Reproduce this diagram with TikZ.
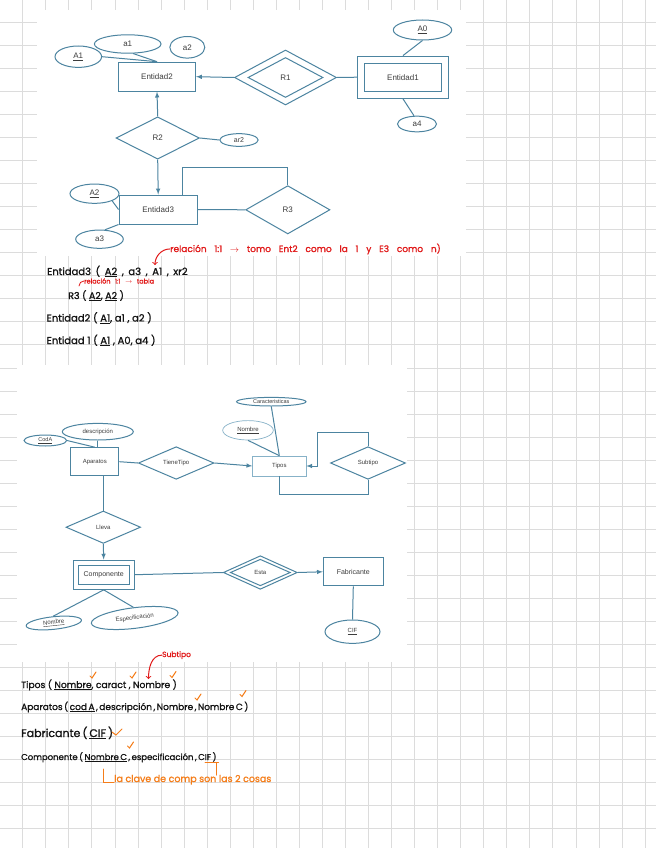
\documentclass[tikz,border=0pt]{standalone}
\usepackage{fontspec}
\usetikzlibrary{shapes.geometric}
\newfontfamily\erfamily{Liberation Sans}
\newfontfamily\handfamily[FakeBold=1.2]{Poppins}
\definecolor{erblue}{RGB}{76,132,160}
\definecolor{erlight}{RGB}{135,178,200}
\definecolor{gridgray}{RGB}{220,220,220}
\definecolor{ertext}{RGB}{60,60,60}
\definecolor{ink}{RGB}{20,20,20}
\definecolor{penred}{RGB}{225,25,25}
\definecolor{penorange}{RGB}{245,125,25}
\tikzset{
  ent/.style={rectangle, draw=erblue, line width=1pt, inner sep=0pt, text=ertext},
  attr/.style={ellipse, draw=erblue, line width=1pt, inner sep=0pt, text=ertext},
  rel/.style={diamond, draw=erblue, line width=1pt, inner sep=0pt, text=ertext},
  lightline/.style={draw=erlight, line width=0.7pt},
  conn/.style={draw=erblue, line width=1pt},
  arr/.style={conn, -latex},
  gridline/.style={draw=gridgray, line width=0.8pt},
  hand/.style={anchor=base west, inner sep=0pt, text=ink, font=\handfamily\fontsize{10}{11}\selectfont},
  redpen/.style={draw=penred, line width=1pt, line cap=round},
  orangepen/.style={draw=penorange, line width=1pt, line cap=round}
}
% spaziatura delle parole scritte a mano
\newcommand{\wgap}[1]{\spaceskip=#1\relax}
\begin{document}
\begin{tikzpicture}[x=1pt, y=-1pt]
    \useasboundingbox (0,0) rectangle (656,848);
    \fill[white] (0,0) rectangle (656,848);

    % --- Quaderno a quadretti ---
    \foreach \k in {0,...,27}
        \draw[gridline] ({22.7+23.05*\k},0) -- ({22.7+23.05*\k},848);
    \foreach \k in {0,...,35}
        \draw[gridline] (0,{22.3+23.04*\k}) -- (656,{22.3+23.04*\k});

    % sfondi bianchi delle due immagini incollate
    \fill[white] (37,10) rectangle (466,256);
    \fill[white] (17,365) rectangle (407,662);

    % --- Primo diagramma ---
    \begin{scope}[nodes={font=\erfamily\fontsize{8}{9}\selectfont}]
    \node[ent, minimum width=77, minimum height=29] (ent2) at (157,76.7) {Entidad2};
    \node[attr, minimum width=46.6, minimum height=21.4] (A1) at (78.3,56.7) {\underline{A1}};
    \node[attr, minimum width=66.6, minimum height=18.4] (a1) at (127.7,44) {a1};
    \node[attr, minimum width=35, minimum height=21.6] (a2) at (187.3,47.3) {a2};

    % relazione doppia R1
    \node[rel, minimum width=102, minimum height=55] (R1) at (285.5,77.5) {};
    \node[rel, minimum width=75, minimum height=40] (R1in) at (R1) {R1};

    % entita debole Entidad1
    \node[ent, minimum width=90.6, minimum height=42.3] (ent1) at (403,77.2) {};
    \node[ent, minimum width=76.7, minimum height=28.3] (ent1in) at (ent1) {Entidad1};
    \node[attr, minimum width=58.4, minimum height=20] (A0) at (422.5,30) {\underline{A0}};
    \node[attr, minimum width=39, minimum height=15.7] (a4) at (417,124) {a4};

    \node[rel, minimum width=83.3, minimum height=42.3] (R2) at (157.7,138) {R2};
    \node[attr, minimum width=38.3, minimum height=12.7, font=\erfamily\fontsize{7}{8}\selectfont] (ar2) at (239,140) {ar2};

    \node[ent, minimum width=78.3, minimum height=29] (ent3) at (158.2,209.5) {Entidad3};
    \node[rel, minimum width=84.3, minimum height=48.3] (R3) at (287.8,209.8) {R3};
    \node[attr, minimum width=49, minimum height=19.3] (A2) at (94.5,193.7) {\underline{A2}};
    \node[attr, minimum width=47.6, minimum height=18.3] (a3) at (99.5,239.2) {a3};

    % collegamenti
    \draw[conn] (A1.east) -- (ent2.north);
    \draw[conn] (a1.-60) -- (ent2.north);
    \draw[arr] (R1.west) -- (ent2.east);
    \draw[conn] (R1.east) -- (ent1.west);
    \draw[conn] (A0.south) -- (ent1.north);
    \draw[conn] (ent1.south) -- (a4.110);
    \draw[arr] (R2.north) -- (ent2.south);
    \draw[conn] (R2.east) -- (ar2.west);
    \draw[arr] (R2.south) -- (ent3.north);
    \draw[conn] (ent3.east) -- (R3.west);
    \coordinate (lp3) at (182.7,167.3);
    \draw[conn] (lp3 |- ent3.north) -- (lp3) -| (R3.north);
    \draw[conn] (A2.south east) -- (ent3.west);
    \draw[conn] (a3.60) -- (ent3.south west);
    \end{scope}

    % --- Secondo diagramma ---
    \begin{scope}[nodes={font=\erfamily\fontsize{6}{7}\selectfont}]
    \node[ent, minimum width=48.3, minimum height=28] (apar) at (94.8,461.7) {Aparatos};
    \node[attr, minimum width=42.6, minimum height=11, font=\erfamily\fontsize{5.5}{6}\selectfont] (codA) at (45.3,440.5) {\underline{CodA}};
    \node[attr, minimum width=71, minimum height=16.6] (desc) at (97.8,431.7) {descripción};
    \node[rel, minimum width=75.6, minimum height=32.6] (tiene) at (176.2,463) {TieneTipo};

    \node[ent, lightline, minimum width=53.3, minimum height=20] (tipos) at (279.3,466) {Tipos};
    \node[attr, minimum width=69.4, minimum height=8.6, font=\erfamily\fontsize{5.5}{6}\selectfont] (carac) at (271.3,401.7) {Caracteristicas};
    \node[attr, lightline, minimum width=50.6, minimum height=19.4] (nomT) at (248,430.3) {\underline{Nombre}};
    \node[rel, minimum width=75, minimum height=32.6] (subt) at (368,463) {Subtipo};

    \node[rel, minimum width=74.6, minimum height=32.4] (lleva) at (103.3,527.2) {Lleva};
    \node[ent, minimum width=60.7, minimum height=29.3] (comp) at (103.7,574.7) {};
    \node[ent, minimum width=51, minimum height=19, font=\erfamily\fontsize{7}{8}\selectfont] (compin) at (comp) {Componente};
    \node[rel, minimum width=74, minimum height=33.6] (esta) at (260.3,572.5) {};
    \node[rel, minimum width=60, minimum height=26.6] (estain) at (esta) {Esta};
    \node[ent, minimum width=60, minimum height=28.3, font=\erfamily\fontsize{7}{8}\selectfont] (fab) at (353.3,571.8) {Fabricante};
    \node[attr, minimum width=55, minimum height=23.4] (cif) at (352.5,631.7) {\underline{CIF}};
    \node[attr, rotate=6, minimum width=55.6, minimum height=12.6] (nomC) at (53.8,623) {\underline{Nombre}};
    \node[attr, rotate=7, minimum width=87.4, minimum height=20.6] (espec) at (134.7,618) {Especificación};

    % collegamenti
    \draw[conn] (desc.south) -- (desc.south |- apar.north);
    \draw[conn] (codA.east) -- (apar.north);
    \draw[conn] (apar.east) -- (tiene.west);
    \draw[arr] (tiene.east) -- (tipos.west);
    \draw[conn] (carac.south) -- (tipos.north);
    \draw[conn] (nomT.south) -- (tipos.north);
    \coordinate (st1) at (317.3,432.7);
    \draw[arr] (subt.north) |- (st1) |- (tipos.east);
    \coordinate (st2) at (279.3,494);
    \draw[conn] (subt.south) |- (st2) -- (tipos.south);
    \draw[conn] (lleva.north |- apar.south) -- (lleva.north);
    \draw[arr] (lleva.south) -- (comp.north);
    \draw[conn] (comp.east) -- (esta.west);
    \draw[arr] (esta.east) -- (fab.west);
    \draw[conn] (fab.south) -- (cif.north);
    \draw[conn] (comp.south) -- (nomC.north);
    \draw[conn] (comp.south) -- (espec.north);
    \end{scope}

    % --- Appunti a mano: primo schema ---
    \node[hand] (f3) at (47,275) {\wgap{4.6pt}Entidad3 ( \underline{A2} , a3 , A1 , xr2};
    \node[hand, font=\handfamily\fontsize{9.5}{11}\selectfont] (fr3) at (68,299) {R3 ( \underline{A2}, \underline{A2} )};
    \node[hand] (f2) at (46.5,321.5) {Entidad2 ( \underline{A1}, a1 , a2 )};
    \node[hand] (f1) at (46.5,344) {Entidad 1 ( \underline{A1} , A0, a4 )};

    \node[hand, text=penred, font=\handfamily\fontsize{9}{10}\selectfont] (nota1) at (170,252) {\wgap{7.8pt}relación 1:1 $\to$ tomo Ent2 como la 1 y E3 como n)};
    \coordinate (k1) at (155,265);
    \draw[redpen, ->] (nota1.west) to[out=180, in=90] (k1);

    \node[hand, text=penred, font=\handfamily\fontsize{6.5}{7}\selectfont] (nota2) at (84,283.5) {\wgap{4.5pt}relación 1:1 $\to$ tabla};
    \coordinate (k2) at (79,286);
    \draw[redpen, line width=0.8pt] (k2) to[out=90, in=180] (nota2.west);

    % --- Appunti a mano: secondo schema ---
    \node[hand, font=\handfamily\fontsize{9.2}{11}\selectfont] (ftipos) at (21,688) {Tipos ( \underline{Nombre}, caract , Nombre )};
    \node[hand, font=\handfamily\fontsize{9}{11}\selectfont] (fapar) at (21,710) {\wgap{1.5pt}Aparatos ( \underline{cod A} , descripción , Nombre , Nombre C )};
    \node[hand, font=\handfamily\fontsize{11}{12}\selectfont] (ffab) at (21,737) {\wgap{2pt}Fabricante ( \underline{CIF} )};
    \node[hand, font=\handfamily\fontsize{8.5}{10}\selectfont] (fcomp) at (21,760) {\wgap{1.5pt}Componente ( \underline{Nombre C} , especificación , CIF )};

    \node[hand, text=penred, font=\handfamily\fontsize{7.5}{8}\selectfont] (nota3) at (162,657) {Subtipo};
    \coordinate (k3) at (148.5,679);
    \draw[redpen, ->] (nota3.west) to[out=180, in=90] (k3);

    % spunte arancioni
    \foreach \cx/\cy in {92/678, 132/678, 172/677.5, 197/700, 242/696.5, 129.5/748}
        \draw[orangepen] (\cx-2,\cy-2) -- (\cx,\cy) -- (\cx+4,\cy-6);
    \coordinate (c1) at (116,735);
    \draw[orangepen] (c1) ++(-4,-3) -- (c1) -- ++(6,-6);

    % chiave composta
    \node[hand, text=penorange, font=\handfamily\fontsize{9.5}{10}\selectfont] (nota4) at (114,782) {la clave de comp son las 2 cosas};
    \coordinate (o1) at (205,762.5);
    \coordinate (o2) at (218.5,762.5);
    \coordinate (o3) at (216.7,775);
    \draw[orangepen] (o1) -- (o2);
    \draw[orangepen] (o3 |- o1) -- (o3);
    \coordinate (o4) at (103.3,769);
    \draw[orangepen] (o4) |- (nota4.base west);
\end{tikzpicture}
\end{document}
